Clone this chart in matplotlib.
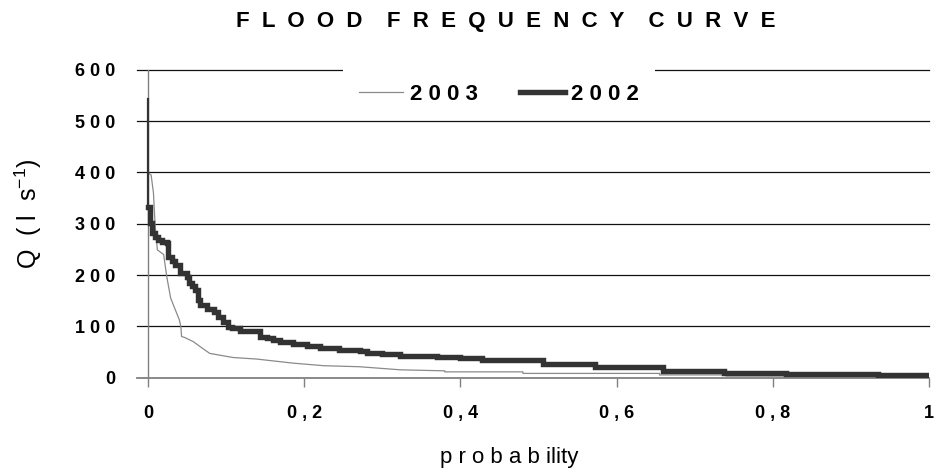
import matplotlib
matplotlib.use("Agg")
import matplotlib.pyplot as plt

plt.rcParams['font.family'] = ['Liberation Sans', 'DejaVu Sans']
plt.rcParams['mathtext.fontset'] = 'custom'
plt.rcParams['mathtext.rm'] = 'Liberation Sans'
plt.rcParams['mathtext.it'] = 'Liberation Sans'

# flow duration data (probability, discharge l/s)
p_2002 = [0.0, 0.0, 0.0026, 0.0047, 0.009, 0.013, 0.018, 0.024, 0.026, 0.031,
          0.035, 0.041, 0.050, 0.052, 0.056, 0.060, 0.064, 0.067, 0.075, 0.084,
          0.090, 0.096, 0.103, 0.107, 0.118, 0.143, 0.152, 0.160, 0.169, 0.186,
          0.203, 0.220, 0.245, 0.271, 0.280, 0.300, 0.323, 0.370, 0.400, 0.428,
          0.506, 0.572, 0.660, 0.738, 0.817, 0.935, 1.0]
q_2002 = [543, 333, 301, 282, 274, 268, 264, 262, 236, 228,
          220, 204, 197, 184, 178, 171, 152, 141, 134, 127,
          118, 109, 99, 96, 90, 80, 77, 74, 70, 65,
          62, 57, 54, 51, 48, 45, 42, 40, 39, 35,
          27, 20, 13, 8.5, 6, 4, 4]

p_2003 = [0.0, 0.004, 0.007, 0.009, 0.012, 0.020, 0.024, 0.029, 0.035, 0.040,
          0.042, 0.043, 0.047, 0.058, 0.067, 0.079, 0.109, 0.139, 0.186, 0.225,
          0.271, 0.323, 0.380, 0.380, 0.480, 0.480, 0.655, 0.655, 0.740, 0.740, 1.0]
q_2003 = [400, 395, 360, 300, 249, 240, 197, 155, 132, 113,
          100, 80, 78, 70, 60, 47, 39, 36, 28, 23,
          21, 15, 13, 11, 11, 8, 8, 5, 5, 3, 3]

series_labels = ['2003', '2002']
x_ticks = [0, 0.2, 0.4, 0.6, 0.8, 1.0]
x_tick_labels = ['0', '0,2', '0,4', '0,6', '0,8', '1']
y_ticks = [0, 100, 200, 300, 400, 500, 600]


def spaced(s, gap=' ', word_gap='    '):
    return word_gap.join(gap.join(w) for w in s.split(' '))


fig = plt.figure(figsize=(9.34, 4.73), dpi=100)
ax = fig.add_axes([137 / 934, 95.5 / 473, 792 / 934, 307.5 / 473])

l03, = ax.plot(p_2003, q_2003, color='#8a8a8a', lw=0.9, zorder=3)
# peak value drawn thin, rest of the 2002 curve thick
ax.plot(p_2002[:2], q_2002[:2], color='#333333', lw=1.6, zorder=4)
l02, = ax.plot(p_2002[1:], q_2002[1:], color='#333333', lw=3.9,
               drawstyle='steps-post', solid_joinstyle='miter', zorder=4)

ax.set_xlim(-11 / 781, 1.0)
ax.set_ylim(0, 600)

ax.set_yticks(y_ticks)
ax.set_yticklabels([spaced(str(v)) for v in y_ticks])
ax.set_xticks(x_ticks)
ax.set_xticklabels([t.replace(',', ' , ') for t in x_tick_labels])

ax.yaxis.grid(True, color='#111111', lw=0.9)
for i, gl in enumerate(ax.get_ygridlines()):
    gl.set_clip_on(False)
    if i == 0:
        gl.set_visible(False)
ax.set_axisbelow(True)

for s in ['top', 'right', 'left']:
    ax.spines[s].set_visible(False)
ax.spines['bottom'].set_color('#808080')
ax.spines['bottom'].set_linewidth(1.3)
ax.axvline(0, color='#808080', lw=1.0, zorder=2)

ax.tick_params(axis='y', length=0, pad=15.5, labelsize=13)
ax.tick_params(axis='x', direction='out', length=6.5, width=1.0,
               color='#808080', pad=13, labelsize=13)
for lab in ax.get_xticklabels() + ax.get_yticklabels():
    lab.set_fontweight('bold')

leg = ax.legend([l03, l02], [spaced(s) for s in series_labels], ncol=2,
                loc='center', bbox_to_anchor=(499 / 934, 1 - 94 / 473),
                bbox_transform=fig.transFigure,
                prop={'weight': 'bold', 'size': 16},
                handlelength=2.0, handletextpad=0.3, columnspacing=1.9,
                borderpad=0.7, fancybox=False, framealpha=1,
                facecolor='white', edgecolor='none')
leg.set_zorder(10)

fig.text(506 / 934, 1 - 22 / 473, spaced('FLOOD FREQUENCY CURVE', gap='  ', word_gap='    '),
         ha='center', va='center', fontsize=16, fontweight='bold')
fig.text(28 / 934, 1 - 214 / 473, 'Q  ( l  s$^{-1}$)', rotation=90,
         ha='center', va='center', fontsize=18)
fig.text(509 / 934, 1 - 457 / 473, 'p r o b a b ility',
         ha='center', va='center', fontsize=16)

fig.savefig('out.png', dpi=100, facecolor='white')
